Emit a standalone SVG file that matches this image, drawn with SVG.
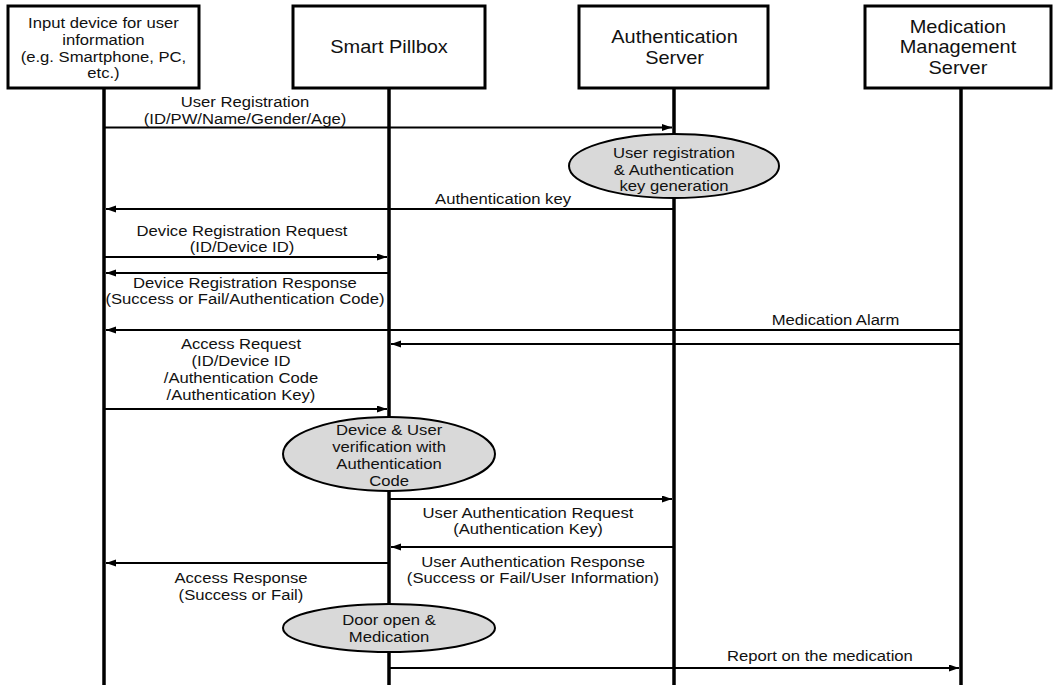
<svg xmlns="http://www.w3.org/2000/svg" width="1056" height="685" viewBox="0 0 1056 685">
<style>
.box{fill:#fff;stroke:#000;stroke-width:3}
.life{stroke:#000;stroke-width:3.5}
.msg{stroke:#000;stroke-width:2;fill:none}
.ell{fill:#d9d9d9;stroke:#000;stroke-width:2}
text{font-family:"Liberation Sans",Arial,sans-serif;font-size:15px;fill:#111;text-anchor:middle}
.h{font-size:18px}
</style>
<defs>
<marker id="ah" markerUnits="userSpaceOnUse" markerWidth="11" markerHeight="8" refX="10" refY="3.5" orient="auto">
<path d="M0,0 L10,3.5 L0,7 z" fill="#000"/>
</marker>
</defs>
<rect width="1056" height="685" fill="#fff"/>
<g id="lifelines">
<line class="life" x1="104" y1="88" x2="104" y2="685"/>
<line class="life" x1="389" y1="88" x2="389" y2="685"/>
<line class="life" x1="674" y1="88" x2="674" y2="685"/>
<line class="life" x1="961" y1="88" x2="961" y2="685"/>
</g>
<g id="node-input">
<rect class="box" x="8" y="6" width="191" height="82"/>
<text transform="scale(1.11 1)"><tspan x="93.2" y="28">Input device for user</tspan><tspan x="93.2" y="45">information</tspan><tspan x="93.2" y="62">(e.g. Smartphone, PC,</tspan><tspan x="93.2" y="78">etc.)</tspan></text>
</g>
<g id="node-pillbox">
<rect class="box" x="293" y="6" width="192" height="82"/>
<text class="h" transform="scale(1.11 1)" x="350.5" y="53.5">Smart Pillbox</text>
</g>
<g id="node-auth">
<rect class="box" x="579" y="6" width="189" height="82"/>
<text class="h" transform="scale(1.11 1)"><tspan x="607.7" y="43.5">Authentication</tspan><tspan x="607.7" y="64">Server</tspan></text>
</g>
<g id="node-med">
<rect class="box" x="865" y="6" width="186" height="82"/>
<text class="h" transform="scale(1.11 1)"><tspan x="863" y="33">Medication</tspan><tspan x="863" y="53.5">Management</tspan><tspan x="863" y="74">Server</tspan></text>
</g>
<g id="connectors">
<line class="msg" x1="105" y1="127.5" x2="672" y2="127.5" marker-end="url(#ah)"/>
<text transform="scale(1.11 1)"><tspan x="220.7" y="107">User Registration</tspan><tspan x="220.7" y="124">(ID/PW/Name/Gender/Age)</tspan></text>
<line class="msg" x1="673" y1="209" x2="106" y2="209" marker-end="url(#ah)"/>
<text transform="scale(1.11 1)" x="453.2" y="204">Authentication key</text>
<line class="msg" x1="105" y1="257" x2="387" y2="257" marker-end="url(#ah)"/>
<text transform="scale(1.11 1)"><tspan x="218" y="236">Device Registration Request</tspan><tspan x="218" y="252">(ID/Device ID)</tspan></text>
<line class="msg" x1="388" y1="273" x2="106" y2="273" marker-end="url(#ah)"/>
<text transform="scale(1.11 1)"><tspan x="220.7" y="288">Device Registration Response</tspan><tspan x="220.7" y="304">(Success or Fail/Authentication Code)</tspan></text>
<line class="msg" x1="960" y1="330" x2="106" y2="330" marker-end="url(#ah)"/>
<text transform="scale(1.11 1)" x="752.7" y="325">Medication Alarm</text>
<line class="msg" x1="960" y1="344" x2="391" y2="344" marker-end="url(#ah)"/>
<text transform="scale(1.11 1)"><tspan x="217.1" y="349">Access Request</tspan><tspan x="217.1" y="366">(ID/Device ID</tspan><tspan x="217.1" y="383">/Authentication Code</tspan><tspan x="217.1" y="400">/Authentication Key)</tspan></text>
<line class="msg" x1="105" y1="409" x2="387" y2="409" marker-end="url(#ah)"/>
<line class="msg" x1="390" y1="499" x2="672" y2="499" marker-end="url(#ah)"/>
<text transform="scale(1.11 1)"><tspan x="475.7" y="518">User Authentication Request</tspan><tspan x="475.7" y="534">(Authentication Key)</tspan></text>
<line class="msg" x1="673" y1="547" x2="391" y2="547" marker-end="url(#ah)"/>
<text transform="scale(1.11 1)"><tspan x="480.2" y="567">User Authentication Response</tspan><tspan x="480.2" y="583">(Success or Fail/User Information)</tspan></text>
<line class="msg" x1="388" y1="563" x2="106" y2="563" marker-end="url(#ah)"/>
<text transform="scale(1.11 1)"><tspan x="217.1" y="583">Access Response</tspan><tspan x="217.1" y="600">(Success or Fail)</tspan></text>
<line class="msg" x1="390" y1="668" x2="959" y2="668" marker-end="url(#ah)"/>
<text transform="scale(1.11 1)" x="738.7" y="661">Report on the medication</text>
</g>
<g id="proc-registration">
<ellipse class="ell" cx="674" cy="166" rx="105" ry="32"/>
<text transform="scale(1.11 1)"><tspan x="607.2" y="158">User registration</tspan><tspan x="607.2" y="175">&amp; Authentication</tspan><tspan x="607.2" y="191">key generation</tspan></text>
</g>
<g id="proc-verification">
<ellipse class="ell" cx="389" cy="454" rx="106" ry="37"/>
<text transform="scale(1.11 1)"><tspan x="350.5" y="435">Device &amp; User</tspan><tspan x="350.5" y="452">verification with</tspan><tspan x="350.5" y="469">Authentication</tspan><tspan x="350.5" y="486">Code</tspan></text>
</g>
<g id="proc-door">
<ellipse class="ell" cx="389" cy="628" rx="106" ry="24"/>
<text transform="scale(1.11 1)"><tspan x="350.5" y="625">Door open &amp;</tspan><tspan x="350.5" y="642">Medication</tspan></text>
</g>
</svg>
